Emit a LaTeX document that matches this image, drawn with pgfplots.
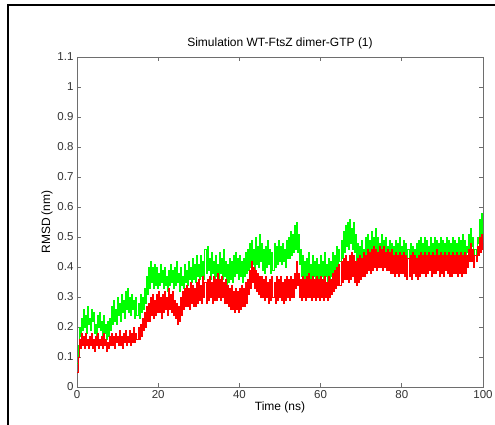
\documentclass[border=0pt]{standalone}
\usepackage{fontspec}
\setmainfont{Liberation Sans}
\usepackage{pgfplots}
\usepackage{pgfplotstable}
\pgfplotsset{compat=1.18}

\definecolor{mgreen}{RGB}{0,255,0}
\definecolor{mred}{RGB}{255,0,0}
\definecolor{axgray}{RGB}{110,110,110}

% green trace (0.25 ns steps)
\pgfplotstableread[row sep=\\]{
x y\\
0 0.08\\ 0.25 0.14\\ 0.5 0.20\\ 0.75 0.17\\ 1 0.23\\
1.25 0.19\\ 1.5 0.26\\ 1.75 0.20\\ 2 0.24\\ 2.25 0.18\\ 2.5 0.27\\ 2.75 0.21\\ 3 0.23\\
3.25 0.19\\ 3.5 0.26\\ 3.75 0.22\\ 4 0.25\\ 4.25 0.18\\ 4.5 0.21\\ 4.75 0.17\\ 5 0.24\\
5.25 0.20\\ 5.5 0.25\\ 5.75 0.19\\ 6 0.22\\ 6.25 0.17\\ 6.5 0.24\\ 6.75 0.18\\ 7 0.21\\
7.25 0.16\\ 7.5 0.22\\ 7.75 0.17\\ 8 0.23\\
8.25 0.19\\ 8.5 0.27\\ 8.75 0.21\\ 9 0.29\\ 9.25 0.22\\ 9.5 0.26\\ 9.75 0.21\\ 10 0.30\\
10.25 0.24\\ 10.5 0.28\\ 10.75 0.22\\ 11 0.31\\ 11.25 0.25\\ 11.5 0.29\\ 11.75 0.23\\ 12 0.32\\
12.25 0.26\\ 12.5 0.33\\ 12.75 0.25\\ 13 0.30\\ 13.25 0.24\\ 13.5 0.31\\ 13.75 0.26\\ 14 0.29\\
14.25 0.23\\ 14.5 0.30\\ 14.75 0.24\\ 15 0.28\\ 15.25 0.23\\ 15.5 0.31\\ 15.75 0.25\\ 16 0.30\\
16.25 0.26\\ 16.5 0.33\\ 16.75 0.28\\ 17 0.37\\ 17.25 0.31\\ 17.5 0.40\\ 17.75 0.33\\ 18 0.42\\
18.25 0.35\\ 18.5 0.40\\ 18.75 0.33\\ 19 0.41\\
19.25 0.34\\ 19.5 0.40\\ 19.75 0.33\\ 20 0.38\\ 20.25 0.34\\ 20.5 0.41\\ 20.75 0.35\\ 21 0.39\\
21.25 0.33\\ 21.5 0.40\\ 21.75 0.34\\ 22 0.37\\ 22.25 0.32\\ 22.5 0.39\\ 22.75 0.34\\ 23 0.41\\
23.25 0.35\\ 23.5 0.39\\ 23.75 0.33\\ 24 0.40\\ 24.25 0.34\\ 24.5 0.42\\ 24.75 0.35\\ 25 0.38\\
25.25 0.32\\ 25.5 0.40\\ 25.75 0.34\\ 26 0.37\\ 26.25 0.33\\ 26.5 0.41\\ 26.75 0.35\\ 27 0.39\\
27.25 0.34\\ 27.5 0.42\\ 27.75 0.36\\ 28 0.40\\ 28.25 0.35\\ 28.5 0.43\\ 28.75 0.36\\ 29 0.41\\
29.25 0.35\\ 29.5 0.44\\ 29.75 0.37\\ 30 0.41\\
30.25 0.36\\ 30.5 0.44\\ 30.75 0.37\\ 31 0.42\\ 31.25 0.36\\ 31.5 0.46\\ 31.75 0.38\\ 32 0.47\\
32.25 0.39\\ 32.5 0.43\\ 32.75 0.36\\ 33 0.45\\ 33.25 0.38\\ 33.5 0.42\\ 33.75 0.35\\ 34 0.44\\
34.25 0.37\\ 34.5 0.41\\ 34.75 0.35\\ 35 0.45\\ 35.25 0.38\\ 35.5 0.43\\ 35.75 0.36\\ 36 0.46\\
36.25 0.37\\ 36.5 0.42\\ 36.75 0.34\\ 37 0.41\\ 37.25 0.35\\ 37.5 0.43\\ 37.75 0.36\\ 38 0.42\\
38.25 0.35\\ 38.5 0.44\\ 38.75 0.37\\ 39 0.45\\ 39.25 0.38\\ 39.5 0.43\\ 39.75 0.36\\ 40 0.44\\
40.25 0.37\\ 40.5 0.42\\ 40.75 0.35\\ 41 0.43\\ 41.25 0.37\\ 41.5 0.45\\ 41.75 0.38\\ 42 0.46\\
42.25 0.39\\ 42.5 0.48\\ 42.75 0.40\\ 43 0.49\\ 43.25 0.41\\ 43.5 0.46\\ 43.75 0.39\\ 44 0.50\\
44.25 0.41\\ 44.5 0.47\\ 44.75 0.40\\ 45 0.51\\ 45.25 0.42\\ 45.5 0.48\\ 45.75 0.39\\ 46 0.46\\
46.25 0.38\\ 46.5 0.47\\ 46.75 0.40\\ 47 0.49\\ 47.25 0.41\\ 47.5 0.46\\ 47.75 0.38\\ 48 0.45\\
48.25 0.39\\ 48.5 0.48\\ 48.75 0.40\\ 49 0.47\\ 49.25 0.41\\ 49.5 0.49\\ 49.75 0.42\\ 50 0.47\\
50.25 0.41\\ 50.5 0.48\\ 50.75 0.42\\ 51 0.46\\ 51.25 0.40\\ 51.5 0.49\\ 51.75 0.43\\ 52 0.50\\
52.25 0.43\\ 52.5 0.52\\ 52.75 0.44\\ 53 0.51\\ 53.25 0.45\\ 53.5 0.54\\ 53.75 0.46\\ 54 0.55\\
54.25 0.45\\ 54.5 0.51\\ 54.75 0.41\\ 55 0.46\\
55.25 0.37\\ 55.5 0.44\\ 55.75 0.36\\ 56 0.42\\ 56.25 0.35\\ 56.5 0.43\\ 56.75 0.37\\ 57 0.45\\
57.25 0.36\\ 57.5 0.41\\ 57.75 0.35\\ 58 0.44\\ 58.25 0.37\\ 58.5 0.42\\ 58.75 0.35\\ 59 0.43\\
59.25 0.36\\ 59.5 0.41\\ 59.75 0.35\\ 60 0.44\\ 60.25 0.37\\ 60.5 0.42\\ 60.75 0.36\\ 61 0.45\\
61.25 0.37\\ 61.5 0.41\\ 61.75 0.35\\ 62 0.43\\ 62.25 0.36\\ 62.5 0.42\\ 62.75 0.37\\ 63 0.45\\
63.25 0.38\\ 63.5 0.44\\ 63.75 0.39\\ 64 0.47\\ 64.25 0.40\\ 64.5 0.46\\ 64.75 0.42\\ 65 0.49\\
65.25 0.43\\ 65.5 0.52\\ 65.75 0.45\\
66 0.54\\ 66.25 0.47\\ 66.5 0.55\\ 66.75 0.46\\ 67 0.56\\ 67.25 0.48\\ 67.5 0.53\\ 67.75 0.46\\
68 0.55\\ 68.25 0.45\\ 68.5 0.51\\
68.75 0.42\\ 69 0.48\\ 69.25 0.41\\ 69.5 0.47\\ 69.75 0.40\\ 70 0.49\\ 70.25 0.42\\ 70.5 0.46\\
70.75 0.41\\ 71 0.50\\
71.25 0.42\\ 71.5 0.51\\ 71.75 0.43\\ 72 0.49\\ 72.25 0.41\\ 72.5 0.52\\ 72.75 0.43\\ 73 0.50\\
73.25 0.42\\ 73.5 0.53\\ 73.75 0.44\\ 74 0.50\\ 74.25 0.42\\ 74.5 0.48\\ 74.75 0.41\\ 75 0.51\\
75.25 0.43\\ 75.5 0.49\\ 75.75 0.42\\ 76 0.50\\ 76.25 0.42\\ 76.5 0.47\\ 76.75 0.41\\ 77 0.49\\
77.25 0.42\\ 77.5 0.48\\ 77.75 0.40\\ 78 0.47\\
78.25 0.41\\ 78.5 0.49\\ 78.75 0.42\\ 79 0.48\\ 79.25 0.41\\ 79.5 0.50\\ 79.75 0.42\\ 80 0.47\\
80.25 0.41\\ 80.5 0.49\\ 80.75 0.42\\ 81 0.48\\ 81.25 0.40\\ 81.5 0.46\\ 81.75 0.40\\ 82 0.48\\
82.25 0.41\\ 82.5 0.47\\ 82.75 0.40\\ 83 0.46\\ 83.25 0.41\\ 83.5 0.48\\ 83.75 0.42\\ 84 0.49\\
84.25 0.43\\ 84.5 0.50\\ 84.75 0.42\\ 85 0.48\\ 85.25 0.43\\ 85.5 0.50\\ 85.75 0.42\\ 86 0.49\\
86.25 0.43\\ 86.5 0.47\\ 86.75 0.42\\ 87 0.50\\ 87.25 0.43\\ 87.5 0.48\\ 87.75 0.42\\ 88 0.50\\
88.25 0.44\\ 88.5 0.49\\ 88.75 0.42\\ 89 0.48\\ 89.25 0.43\\ 89.5 0.50\\ 89.75 0.43\\ 90 0.49\\
90.25 0.42\\ 90.5 0.48\\ 90.75 0.43\\ 91 0.50\\ 91.25 0.44\\ 91.5 0.49\\ 91.75 0.42\\ 92 0.48\\
92.25 0.43\\ 92.5 0.50\\ 92.75 0.43\\ 93 0.49\\ 93.25 0.42\\ 93.5 0.48\\ 93.75 0.43\\ 94 0.50\\
94.25 0.44\\ 94.5 0.49\\ 94.75 0.42\\ 95 0.51\\ 95.25 0.43\\ 95.5 0.49\\ 95.75 0.43\\
96 0.47\\ 96.25 0.45\\ 96.5 0.51\\ 96.75 0.46\\ 97 0.53\\ 97.25 0.47\\ 97.5 0.50\\ 97.75 0.43\\
98 0.46\\ 98.25 0.44\\ 98.5 0.50\\ 98.75 0.48\\ 99 0.56\\ 99.25 0.50\\ 99.5 0.58\\ 99.75 0.51\\
100 0.55\\
}\greentrace

% red trace
\pgfplotstableread[row sep=\\]{
x y\\
0 0.05\\ 0.25 0.10\\ 0.5 0.16\\ 0.75 0.13\\ 1 0.18\\
1.25 0.14\\ 1.5 0.17\\ 1.75 0.13\\ 2 0.18\\ 2.25 0.14\\ 2.5 0.16\\ 2.75 0.13\\ 3 0.17\\
3.25 0.14\\ 3.5 0.18\\ 3.75 0.13\\ 4 0.16\\ 4.25 0.12\\ 4.5 0.17\\ 4.75 0.14\\ 5 0.18\\
5.25 0.13\\ 5.5 0.16\\ 5.75 0.14\\ 6 0.17\\ 6.25 0.13\\ 6.5 0.18\\ 6.75 0.14\\ 7 0.16\\
7.25 0.12\\ 7.5 0.15\\ 7.75 0.13\\ 8 0.17\\ 8.25 0.14\\ 8.5 0.18\\ 8.75 0.14\\ 9 0.17\\
9.25 0.13\\ 9.5 0.18\\ 9.75 0.15\\ 10 0.17\\ 10.25 0.14\\ 10.5 0.19\\ 10.75 0.14\\ 11 0.17\\
11.25 0.13\\ 11.5 0.18\\ 11.75 0.15\\ 12 0.19\\ 12.25 0.14\\ 12.5 0.17\\ 12.75 0.15\\ 13 0.19\\
13.25 0.14\\ 13.5 0.18\\ 13.75 0.15\\ 14 0.20\\ 14.25 0.15\\ 14.5 0.18\\ 14.75 0.16\\ 15 0.20\\
15.25 0.16\\ 15.5 0.21\\ 15.75 0.17\\ 16 0.23\\ 16.25 0.19\\ 16.5 0.25\\ 16.75 0.20\\ 17 0.27\\
17.25 0.22\\ 17.5 0.28\\ 17.75 0.22\\ 18 0.30\\ 18.25 0.24\\ 18.5 0.31\\ 18.75 0.23\\ 19 0.29\\
19.25 0.24\\ 19.5 0.31\\ 19.75 0.25\\ 20 0.32\\
20.25 0.25\\ 20.5 0.30\\ 20.75 0.23\\ 21 0.31\\ 21.25 0.25\\ 21.5 0.32\\ 21.75 0.26\\ 22 0.30\\
22.25 0.24\\ 22.5 0.33\\ 22.75 0.26\\ 23 0.31\\ 23.25 0.25\\ 23.5 0.32\\ 23.75 0.24\\ 24 0.29\\
24.25 0.23\\ 24.5 0.28\\ 24.75 0.21\\ 25 0.27\\ 25.25 0.22\\ 25.5 0.30\\ 25.75 0.24\\ 26 0.32\\
26.25 0.26\\ 26.5 0.33\\ 26.75 0.27\\
27 0.34\\ 27.25 0.27\\ 27.5 0.33\\ 27.75 0.26\\ 28 0.35\\ 28.25 0.28\\ 28.5 0.34\\ 28.75 0.27\\
29 0.33\\ 29.25 0.27\\ 29.5 0.35\\ 29.75 0.28\\ 30 0.36\\ 30.25 0.29\\ 30.5 0.34\\ 30.75 0.28\\
31 0.37\\ 31.25 0.30\\ 31.5 0.35\\ 31.75 0.28\\ 32 0.36\\ 32.25 0.29\\ 32.5 0.37\\ 32.75 0.30\\
33 0.35\\ 33.25 0.28\\ 33.5 0.37\\ 33.75 0.29\\ 34 0.36\\ 34.25 0.29\\ 34.5 0.38\\ 34.75 0.30\\
35 0.36\\ 35.25 0.29\\ 35.5 0.37\\ 35.75 0.30\\ 36 0.35\\ 36.25 0.28\\ 36.5 0.36\\ 36.75 0.28\\
37 0.34\\ 37.25 0.27\\ 37.5 0.33\\ 37.75 0.26\\ 38 0.34\\ 38.25 0.26\\ 38.5 0.32\\ 38.75 0.25\\
39 0.33\\ 39.25 0.26\\ 39.5 0.32\\ 39.75 0.25\\ 40 0.33\\ 40.25 0.26\\ 40.5 0.34\\ 40.75 0.27\\
41 0.33\\ 41.25 0.27\\ 41.5 0.35\\ 41.75 0.28\\ 42 0.36\\
42.25 0.31\\ 42.5 0.39\\ 42.75 0.33\\ 43 0.42\\ 43.25 0.35\\ 43.5 0.40\\ 43.75 0.33\\ 44 0.39\\
44.25 0.32\\ 44.5 0.38\\ 44.75 0.31\\ 45 0.37\\
45.25 0.30\\ 45.5 0.37\\ 45.75 0.30\\ 46 0.36\\ 46.25 0.29\\ 46.5 0.37\\ 46.75 0.30\\ 47 0.35\\
47.25 0.28\\ 47.5 0.36\\ 47.75 0.29\\ 48 0.37\\ 48.25 0.30\\ 48.5 0.35\\ 48.75 0.28\\ 49 0.37\\
49.25 0.29\\ 49.5 0.36\\ 49.75 0.30\\ 50 0.37\\ 50.25 0.29\\ 50.5 0.35\\ 50.75 0.28\\ 51 0.36\\
51.25 0.29\\ 51.5 0.37\\ 51.75 0.30\\ 52 0.36\\ 52.25 0.29\\ 52.5 0.37\\ 52.75 0.30\\ 53 0.36\\
53.25 0.30\\ 53.5 0.38\\ 53.75 0.33\\ 54 0.42\\ 54.25 0.34\\ 54.5 0.38\\ 54.75 0.30\\ 55 0.36\\
55.25 0.29\\ 55.5 0.37\\ 55.75 0.30\\ 56 0.36\\ 56.25 0.29\\ 56.5 0.37\\ 56.75 0.30\\ 57 0.38\\
57.25 0.30\\ 57.5 0.36\\ 57.75 0.29\\ 58 0.37\\ 58.25 0.30\\ 58.5 0.36\\ 58.75 0.29\\ 59 0.37\\
59.25 0.30\\ 59.5 0.36\\ 59.75 0.29\\ 60 0.37\\ 60.25 0.30\\ 60.5 0.36\\ 60.75 0.29\\ 61 0.37\\
61.25 0.30\\ 61.5 0.35\\ 61.75 0.29\\ 62 0.37\\ 62.25 0.30\\ 62.5 0.36\\ 62.75 0.31\\ 63 0.38\\
63.25 0.32\\
63.5 0.39\\ 63.75 0.33\\ 64 0.40\\ 64.25 0.34\\ 64.5 0.41\\ 64.75 0.34\\ 65 0.42\\ 65.25 0.35\\
65.5 0.43\\ 65.75 0.36\\ 66 0.44\\ 66.25 0.36\\ 66.5 0.42\\ 66.75 0.35\\ 67 0.44\\ 67.25 0.36\\
67.5 0.45\\ 67.75 0.37\\ 68 0.44\\ 68.25 0.35\\ 68.5 0.42\\ 68.75 0.34\\ 69 0.43\\ 69.25 0.35\\
69.5 0.44\\ 69.75 0.36\\ 70 0.43\\ 70.25 0.37\\ 70.5 0.45\\ 70.75 0.37\\ 71 0.44\\ 71.25 0.38\\
71.5 0.46\\ 71.75 0.39\\ 72 0.45\\ 72.25 0.38\\ 72.5 0.46\\ 72.75 0.39\\ 73 0.47\\ 73.25 0.40\\
73.5 0.46\\ 73.75 0.39\\ 74 0.45\\ 74.25 0.40\\ 74.5 0.47\\ 74.75 0.40\\ 75 0.46\\ 75.25 0.39\\
75.5 0.47\\ 75.75 0.40\\ 76 0.45\\ 76.25 0.39\\ 76.5 0.46\\ 76.75 0.39\\ 77 0.45\\ 77.25 0.38\\
77.5 0.46\\ 77.75 0.38\\
78 0.44\\ 78.25 0.37\\ 78.5 0.45\\ 78.75 0.38\\ 79 0.44\\ 79.25 0.37\\ 79.5 0.45\\ 79.75 0.38\\
80 0.44\\ 80.25 0.38\\ 80.5 0.45\\ 80.75 0.37\\ 81 0.44\\ 81.25 0.36\\ 81.5 0.43\\ 81.75 0.37\\
82 0.44\\ 82.25 0.36\\ 82.5 0.45\\ 82.75 0.38\\ 83 0.44\\ 83.25 0.37\\ 83.5 0.43\\ 83.75 0.36\\
84 0.44\\ 84.25 0.37\\ 84.5 0.45\\ 84.75 0.38\\ 85 0.44\\ 85.25 0.38\\ 85.5 0.45\\ 85.75 0.37\\
86 0.44\\ 86.25 0.38\\ 86.5 0.45\\ 86.75 0.39\\ 87 0.44\\ 87.25 0.37\\ 87.5 0.45\\ 87.75 0.38\\
88 0.44\\ 88.25 0.38\\ 88.5 0.46\\ 88.75 0.39\\ 89 0.44\\ 89.25 0.37\\ 89.5 0.45\\ 89.75 0.38\\
90 0.44\\ 90.25 0.37\\ 90.5 0.45\\ 90.75 0.39\\ 91 0.44\\ 91.25 0.38\\ 91.5 0.45\\ 91.75 0.37\\
92 0.44\\ 92.25 0.37\\ 92.5 0.45\\ 92.75 0.38\\ 93 0.44\\ 93.25 0.38\\ 93.5 0.45\\ 93.75 0.37\\
94 0.44\\ 94.25 0.38\\ 94.5 0.45\\ 94.75 0.37\\ 95 0.44\\ 95.25 0.38\\ 95.5 0.45\\ 95.75 0.38\\
96 0.44\\ 96.25 0.40\\ 96.5 0.46\\ 96.75 0.42\\ 97 0.48\\ 97.25 0.42\\ 97.5 0.46\\ 97.75 0.40\\
98 0.44\\ 98.25 0.42\\ 98.5 0.47\\ 98.75 0.44\\ 99 0.50\\ 99.25 0.45\\ 99.5 0.51\\ 99.75 0.46\\
100 0.48\\
}\redtrace

\begin{document}
\begin{tikzpicture}
  \useasboundingbox (0,0) rectangle (495pt,425pt);
  \draw[line width=2.5pt] (8pt,-2pt) -- (8pt,420pt) -- (497pt,420pt);
  \begin{axis}[
      at={(77pt,38pt)},
      anchor=south west,
      scale only axis,
      width=406pt,
      height=330pt,
      xmin=0, xmax=100,
      ymin=0, ymax=1.1,
      xtick={0,20,40,60,80,100},
      ytick={0,0.1,0.2,0.3,0.4,0.5,0.6,0.7,0.8,0.9,1,1.1},
      yticklabels={0,0.1,0.2,0.3,0.4,0.5,0.6,0.7,0.8,0.9,1,1.1},
      tick align=inside,
      major tick length=4pt,
      axis line style={axgray, line width=0.8pt},
      every tick/.style={axgray, line width=0.8pt},
      tick label style={font=\fontsize{11.5}{13}\selectfont, black!80},
      /pgf/number format/assume math mode=true,
      title={Simulation WT-FtsZ dimer-GTP (1)},
      title style={font=\fontsize{12}{14}\selectfont, yshift=-2pt},
      xlabel={Time (ns)},
      ylabel={RMSD (nm)},
      label style={font=\fontsize{12}{14}\selectfont},
      xlabel style={yshift=4pt},
      ylabel style={yshift=-2pt},
      every axis plot/.append style={const plot, line width=0.8pt},
    ]
    \addplot[mgreen] table {\greentrace};
    \addplot[mred] table {\redtrace};
  \end{axis}
\end{tikzpicture}
\end{document}
